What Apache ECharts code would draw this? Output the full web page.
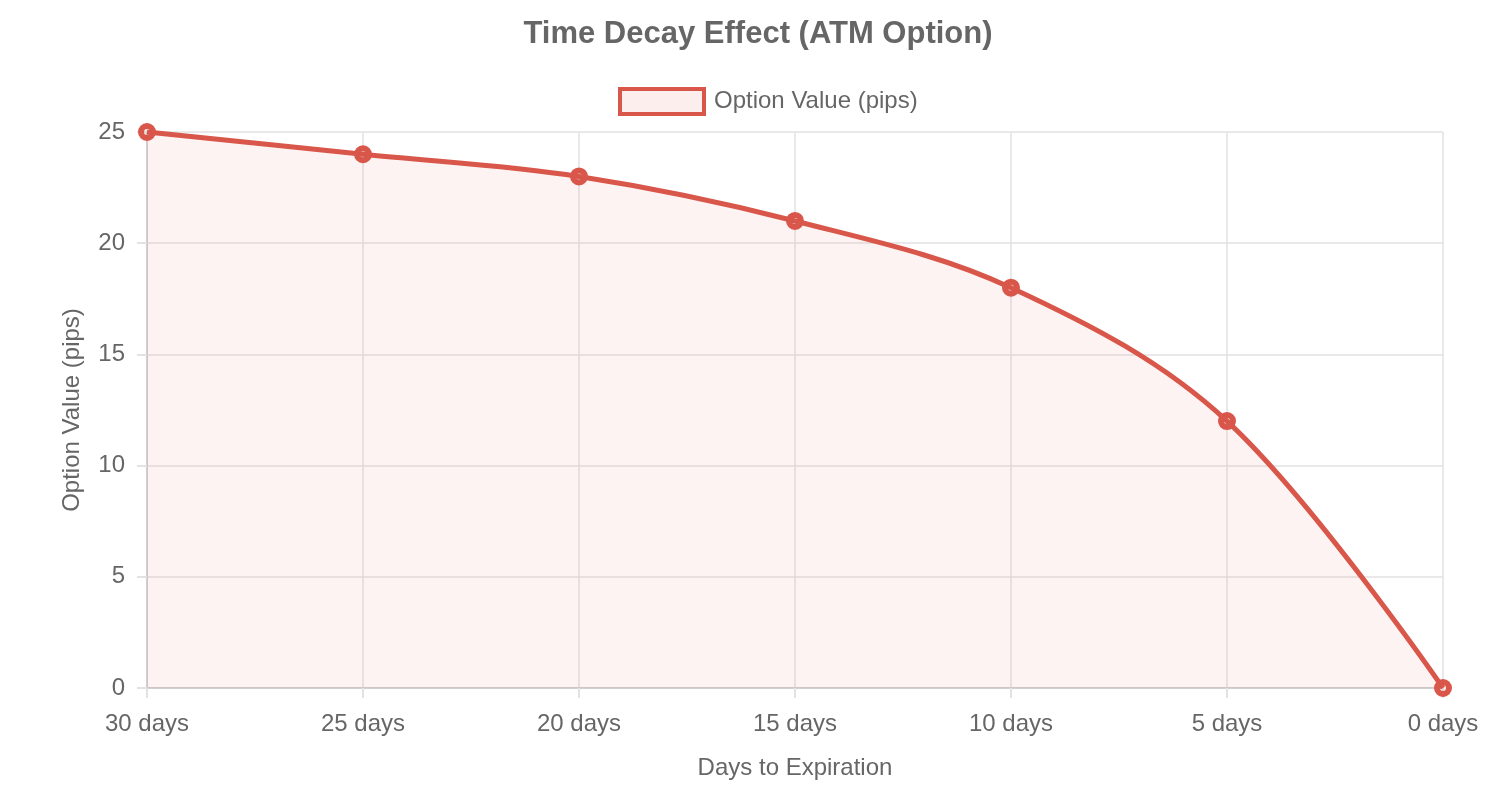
<!DOCTYPE html>
<html>
<head>
<meta charset="utf-8">
<script src="https://cdn.jsdelivr.net/npm/echarts@6/dist/echarts.min.js"></script>
<style>
  html, body { margin: 0; padding: 0; background: #fff; }
  #graph1 { width: 1504px; height: 810px; }
</style>
</head>
<body>
<div id="graph1"></div>
<script>
var days = ["30 days", "25 days", "20 days", "15 days", "10 days", "5 days", "0 days"];
var optionValue = [25, 24, 23, 21, 18, 12, 0];
var yTicks = [0, 5, 10, 15, 20, 25];

var red = '#d9574a';
var pale = 'rgba(217,87,74,0.1)';
var gridColor = '#e2e2e2';
var textColor = '#666';
var font = 'Helvetica, "Liberation Sans", Arial, sans-serif';

var myChart1 = echarts.init(document.getElementById('graph1'));
var option = {
    animation: false,
    textStyle: { fontFamily: font },
    title: {
        text: 'Time Decay Effect (ATM Option)',
        left: 753,
        textAlign: 'center',
        top: 14,
        textStyle: { fontSize: 31, fontWeight: 'bold', color: textColor, fontFamily: font }
    },
    legend: {
        top: 87,
        left: 618,
        padding: 0,
        itemWidth: 84,
        itemHeight: 25,
        itemGap: 10,
        textStyle: { fontSize: 24, color: textColor, fontFamily: font, padding: [0, 0, 0, 5] },
        data: [{
            name: 'Option Value (pips)',
            icon: 'rect',
            itemStyle: { color: pale, borderColor: red, borderWidth: 4 }
        }]
    },
    grid: { left: 147, right: 61, top: 132, bottom: 122 },
    xAxis: {
        type: 'category',
        boundaryGap: false,
        data: days,
        name: 'Days to Expiration',
        nameLocation: 'middle',
        nameGap: 68,
        nameTextStyle: { fontSize: 24, color: textColor },
        axisLine: { lineStyle: { color: '#cfcfcf', width: 2 } },
        axisTick: { show: true, length: 10, lineStyle: { color: gridColor, width: 2 } },
        axisLabel: { fontSize: 24, color: textColor, margin: 24 },
        splitLine: { show: true, lineStyle: { color: gridColor, width: 1.5 } }
    },
    yAxis: {
        type: 'value',
        min: 0,
        max: 25,
        interval: 5,
        name: 'Option Value (pips)',
        nameLocation: 'middle',
        nameGap: 63,
        nameTextStyle: { fontSize: 24, color: textColor },
        axisLine: { show: true, lineStyle: { color: '#cfcfcf', width: 2 } },
        axisTick: { show: true, length: 10, lineStyle: { color: gridColor, width: 2 } },
        axisLabel: {
            fontSize: 24, color: textColor, margin: 22,
            formatter: function (v) { return yTicks.indexOf(v) >= 0 ? String(v) : ''; }
        },
        splitLine: { show: true, lineStyle: { color: gridColor, width: 1.5 } }
    },
    series: [{
        name: 'Option Value (pips)',
        type: 'line',
        data: optionValue,
        smooth: 0.35,
        symbol: 'circle',
        symbolSize: 12,
        lineStyle: { color: red, width: 5 },
        itemStyle: { color: pale, borderColor: red, borderWidth: 6 },
        areaStyle: { color: pale }
    }]
};
myChart1.setOption(option);
</script>
</body>
</html>
